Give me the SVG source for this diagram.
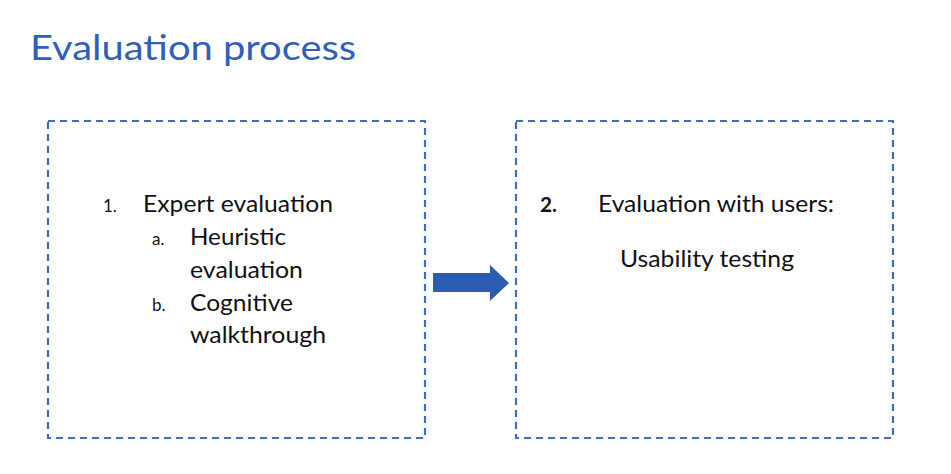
<svg xmlns="http://www.w3.org/2000/svg" width="951" height="474" viewBox="0 0 951 474">
<style>
.box{fill:none;stroke:#3d6cc0;stroke-width:2.2;stroke-dasharray:7 5}
.t{font-family:Lato,"Open Sans","Liberation Sans",sans-serif;fill:#111}
.big{font-size:23px}
.num{font-size:17px}
.title{font-family:Lato,"Open Sans","Liberation Sans",sans-serif;font-size:35px;fill:#2f5fb8}
</style>
<rect width="951" height="474" fill="#fff"/>
<text class="title" x="30" y="60" textLength="326" lengthAdjust="spacingAndGlyphs">Evaluation process</text>
<g id="node1">
<rect class="box" x="48" y="121" width="377" height="317"/>
<text class="t num" x="103" y="212">1.</text>
<text class="t big" x="143" y="212" textLength="190" lengthAdjust="spacingAndGlyphs">Expert evaluation</text>
<text class="t num" x="152" y="245">a.</text>
<text class="t big" x="190" y="245" textLength="96" lengthAdjust="spacingAndGlyphs">Heuristic</text>
<text class="t big" x="190" y="278" textLength="113" lengthAdjust="spacingAndGlyphs">evaluation</text>
<text class="t num" x="152" y="311">b.</text>
<text class="t big" x="190" y="311" textLength="103" lengthAdjust="spacingAndGlyphs">Cognitive</text>
<text class="t big" x="190" y="343" textLength="136" lengthAdjust="spacingAndGlyphs">walkthrough</text>
</g>
<g id="node2">
<rect class="box" x="516" y="121" width="377" height="317"/>
<text class="t" x="540" y="212" font-size="20" font-weight="bold" textLength="17" lengthAdjust="spacingAndGlyphs">2.</text>
<text class="t big" x="598" y="212" textLength="236" lengthAdjust="spacingAndGlyphs">Evaluation with users:</text>
<text class="t big" x="620" y="267" textLength="174" lengthAdjust="spacingAndGlyphs">Usability testing</text>
</g>
<g id="connectors">
<polygon points="433,273 490,273 490,265 509,283 490,301 490,292 433,292" fill="#2a5cb2"/>
</g>
</svg>
